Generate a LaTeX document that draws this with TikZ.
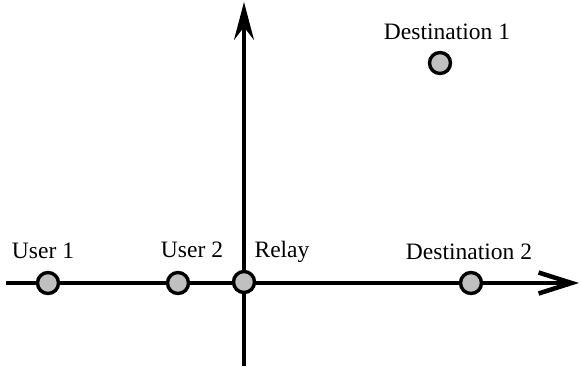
\documentclass[tikz,border=0pt]{standalone}
\usepackage{fontspec}
\setmainfont{Liberation Serif}
\usepackage{tikz}
\usetikzlibrary{arrows.meta}
\definecolor{nodegray}{RGB}{192,192,192}

\begin{document}
\begin{tikzpicture}[%
    x=1bp, y=-1bp,
    terminal/.style={%
        draw,
        circle,
        fill=nodegray,
        line width=3.4bp,
        inner sep=0pt,
        minimum size=21bp
    },
    caption/.style={%
        inner sep=0pt,
        anchor=base,
        font=\fontsize{23.6}{28}\selectfont
    },
    axis/.style={%
        line width=3.3bp
    }
]
\useasboundingbox (0,0) rectangle (581,372);

% Axes
    \coordinate (xstart) at (6,283);
    \coordinate (xend) at (579,283);
    \coordinate (ystart) at (244,366);
    \coordinate (yend) at (244,2);
\draw[axis, -{Straight Barb[length=33bp, width=21bp, line width=4.5bp]}] (xstart) -- (xend);
\draw[axis, -{Stealth[length=38bp, width=20bp, inset=13bp]}] (ystart) -- (yend);

% Nodes
    \node[terminal] (user1) at (48,283) {};
    \node[terminal] (user2) at (178,283) {};
    \node[terminal] (relay) at (244,282) {};
    \node[terminal] (dest2) at (471,283) {};
    \node[terminal] (dest1) at (440,63) {};

% Labels
    \node[caption] (user1label) at (43,258) {User 1};
    \node[caption] (user2label) at (192,257) {User 2};
    \node[caption] (relaylabel) at (282,257) {Relay};
    \node[caption] (dest2label) at (469,259) {Destination 2};
    \node[caption] (dest1label) at (447,39) {Destination 1};

\end{tikzpicture}
\end{document}
